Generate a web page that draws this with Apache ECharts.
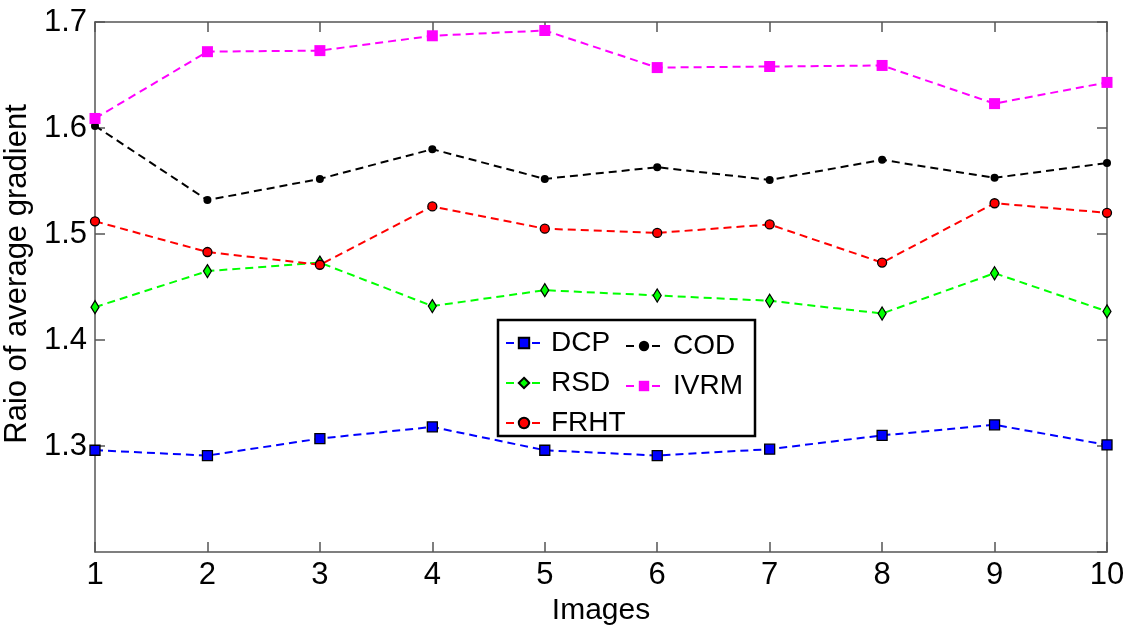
<!DOCTYPE html>
<html>
<head>
<meta charset="utf-8">
<script src="https://cdn.jsdelivr.net/npm/echarts@6/dist/echarts.min.js"></script>
<style>
  html, body { margin: 0; padding: 0; background: #fff; }
  #main { width: 1137px; height: 626px; }
</style>
</head>
<body>
<div id="main"></div>
<script>
// data
const images = ['1', '2', '3', '4', '5', '6', '7', '8', '9', '10']
const dcp  = [1.296, 1.291, 1.307, 1.318, 1.296, 1.291, 1.297, 1.310, 1.320, 1.301]
const rsd  = [1.431, 1.465, 1.473, 1.432, 1.447, 1.442, 1.437, 1.425, 1.463, 1.427]
const frht = [1.512, 1.483, 1.471, 1.526, 1.505, 1.501, 1.509, 1.473, 1.529, 1.520]
const cod  = [1.602, 1.532, 1.552, 1.580, 1.552, 1.563, 1.551, 1.570, 1.553, 1.567]
const ivrm = [1.609, 1.672, 1.673, 1.687, 1.692, 1.657, 1.658, 1.659, 1.623, 1.643]

const font = '"Liberation Sans", Arial, sans-serif'
const axisGray = '#555'
const dash = [8, 5]

const mkSeries = (name, data, color, symbol, size, border) => ({
    name: name,
    type: 'line',
    data: data,
    symbol: symbol,
    symbolSize: size,
    showAllSymbol: true,
    lineStyle: { color: color, width: 2, type: dash },
    itemStyle: { color: color, borderColor: border, borderWidth: border ? 1.3 : 0 },
    emphasis: { disabled: true },
    z: 3
})

const chart = echarts.init(document.getElementById('main'))
// 指定图表的配置项
const option = {
    animation: false,
    backgroundColor: '#fff',
    textStyle: { fontFamily: font },
    grid: { left: 95, right: 30, top: 22, bottom: 74, outerBoundsMode: 'none', containLabel: false },
    legend: [{
        left: 500, top: 324, orient: 'vertical',
        itemWidth: 36, itemHeight: 13, itemGap: 12,
        textStyle: { fontSize: 28, color: '#000', fontFamily: font, padding: [0, 0, 0, 4] },
        data: ['DCP', 'RSD', 'FRHT']
    }, {
        left: 620, top: 327, orient: 'vertical',
        itemWidth: 36, itemHeight: 13, itemGap: 12,
        textStyle: { fontSize: 28, color: '#000', fontFamily: font, padding: [0, 0, 0, 6] },
        data: ['COD', 'IVRM']
    }],
    graphic: [{
        type: 'rect',
        shape: { x: 498, y: 320, width: 257, height: 116 },
        style: { fill: null, stroke: '#000', lineWidth: 2.5 },
        z: 1
    }],
    xAxis: [{
        type: 'category', data: images, boundaryGap: false,
        name: 'Images', nameLocation: 'middle', nameGap: 36,
        nameTextStyle: { fontSize: 30, color: '#000', fontFamily: font },
        axisLine: { lineStyle: { color: axisGray, width: 1.5 } },
        axisTick: { inside: true, length: 10, lineStyle: { color: axisGray, width: 1.5 } },
        axisLabel: { fontSize: 31, color: '#000', margin: 8, fontFamily: font },
        splitLine: { show: false }
    }, {
        type: 'category', data: images, boundaryGap: false, position: 'top',
        axisLine: { lineStyle: { color: axisGray, width: 1.5 } },
        axisTick: { inside: true, length: 10, lineStyle: { color: axisGray, width: 1.5 } },
        axisLabel: { show: false },
        splitLine: { show: false }
    }],
    yAxis: [{
        type: 'value', min: 1.2, max: 1.7, interval: 0.1,
        name: 'Raio of average gradient', nameLocation: 'middle', nameGap: 53,
        nameTextStyle: { fontSize: 31, color: '#000', fontFamily: font, padding: [0, 0, 0, 26] },
        axisLine: { show: true, lineStyle: { color: axisGray, width: 1.5 } },
        axisTick: { show: true, inside: true, length: 10, lineStyle: { color: axisGray, width: 1.5 } },
        axisLabel: { fontSize: 31, color: '#000', margin: 8, showMinLabel: false,
            formatter: v => v.toFixed(1), fontFamily: font },
        splitLine: { show: false }
    }, {
        type: 'value', min: 1.2, max: 1.7, interval: 0.1, position: 'right',
        axisLine: { show: true, lineStyle: { color: axisGray, width: 1.5 } },
        axisTick: { show: true, inside: true, length: 10, lineStyle: { color: axisGray, width: 1.5 } },
        axisLabel: { show: false },
        splitLine: { show: false }
    }],
    series: [
        mkSeries('DCP', dcp, '#0000ff', 'rect', 10, '#000'),
        mkSeries('RSD', rsd, '#00ff00', 'diamond', [8, 13], '#000'),
        mkSeries('FRHT', frht, '#ff0000', 'circle', 9, '#000'),
        mkSeries('COD', cod, '#000000', 'circle', 8, null),
        mkSeries('IVRM', ivrm, '#ff00ff', 'rect', 11, null)
    ]
}
chart.setOption(option)
</script>
</body>
</html>
